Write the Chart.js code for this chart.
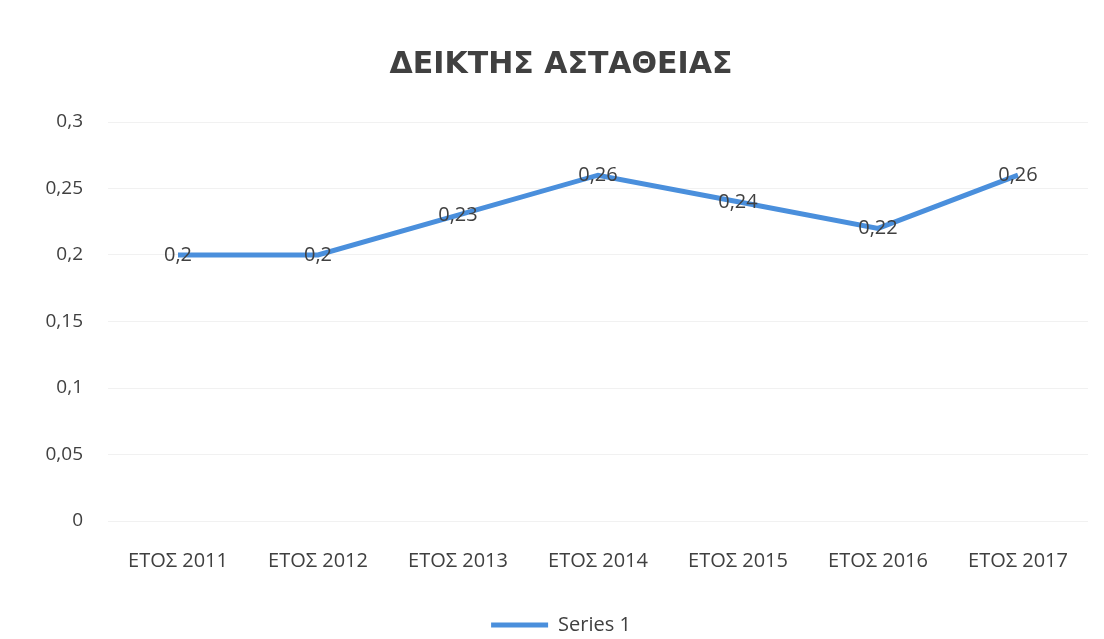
<!DOCTYPE html>
<html>
<head>
<meta charset="utf-8">
<script src="https://cdn.jsdelivr.net/npm/chart.js@4"></script>
<style>
  html, body { margin: 0; padding: 0; background: #fff; }
  #wrap { width: 1104px; height: 639px; }
</style>
</head>
<body>
<div id="wrap"><canvas id="grafica"></canvas></div>
<script>
// Datos del gráfico
const categorias = ['ΕΤΟΣ 2011', 'ΕΤΟΣ 2012', 'ΕΤΟΣ 2013', 'ΕΤΟΣ 2014', 'ΕΤΟΣ 2015', 'ΕΤΟΣ 2016', 'ΕΤΟΣ 2017'];
const valoresSerie1 = [0.2, 0.2, 0.23, 0.26, 0.24, 0.22, 0.26];
const ticksY = [0, 0.05, 0.1, 0.15, 0.2, 0.25, 0.3];

const fuente = '"Open Sans", "Noto Sans", sans-serif';
const formatoComa = v => String(v).replace('.', ',');

// Etiquetas de datos centradas sobre cada punto
const etiquetasDatos = {
  id: 'etiquetasDatos',
  afterDatasetsDraw(chart) {
    const ctx = chart.ctx;
    const meta = chart.getDatasetMeta(0);
    ctx.save();
    ctx.font = '20px ' + fuente;
    ctx.fillStyle = '#404040';
    ctx.textAlign = 'center';
    ctx.textBaseline = 'middle';
    meta.data.forEach((punto, i) => {
      ctx.fillText(formatoComa(valoresSerie1[i]), punto.x, punto.y);
    });
    ctx.restore();
  }
};

new Chart(document.getElementById('grafica'), {
  type: 'line',
  data: {
    labels: categorias,
    datasets: [{
      label: 'Series 1',
      data: valoresSerie1,
      borderColor: '#4a8fdc',
      backgroundColor: '#4a8fdc',
      borderWidth: 5,
      pointRadius: 0,
      tension: 0,
      fill: false
    }]
  },
  options: {
    responsive: true,
    maintainAspectRatio: false,
    animation: false,
    layout: { padding: { left: 34, right: 16, top: 0, bottom: -6 } },
    plugins: {
      title: {
        display: true,
        text: 'ΔΕΙΚΤΗΣ ΑΣΤΑΘΕΙΑΣ',
        color: '#404040',
        font: { family: '"DejaVu Sans", sans-serif', size: 30, weight: 'bold' },
        padding: { top: 47, bottom: 39 }
      },
      legend: {
        display: true,
        position: 'bottom',
        labels: {
          usePointStyle: true,
          pointStyle: 'line',
          pointStyleWidth: 57,
          color: '#404040',
          font: { family: fuente, size: 20 },
          padding: 2
        }
      },
      tooltip: { enabled: false }
    },
    scales: {
      x: {
        offset: true,
        afterFit(escala) { escala.height = 92; },
        grid: { display: false },
        border: { display: false },
        ticks: { color: '#404040', font: { family: fuente, size: 20 }, padding: 20, maxRotation: 0 }
      },
      y: {
        min: 0,
        max: 0.3,
        afterFit(escala) { escala.width = 74; },
        afterBuildTicks(escala) { escala.ticks = ticksY.map(v => ({ value: v })); },
        grid: { color: '#f1f1f1', lineWidth: 1, drawTicks: false },
        border: { display: false },
        ticks: {
          color: '#404040',
          font: { family: fuente, size: 19 },
          padding: 25,
          callback: v => formatoComa(v)
        }
      }
    }
  },
  plugins: [etiquetasDatos]
});
</script>
</body>
</html>
